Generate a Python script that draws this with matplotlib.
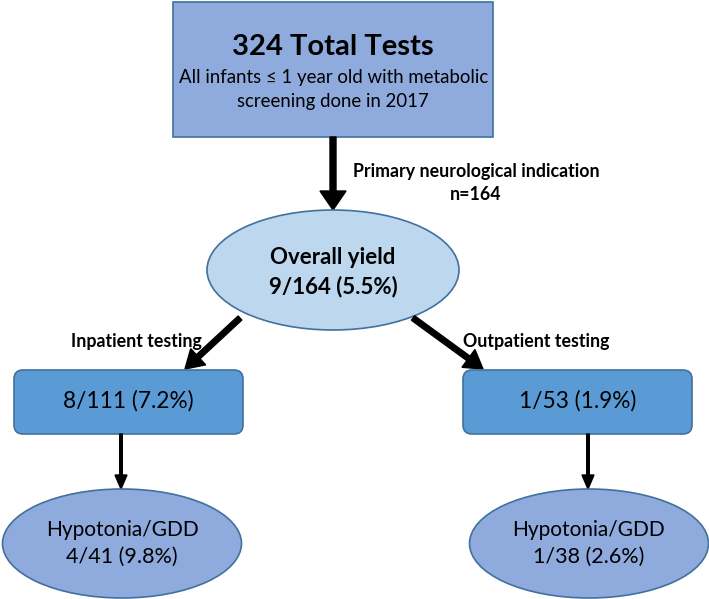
import matplotlib.pyplot as plt
from matplotlib.patches import Rectangle, Ellipse, FancyBboxPatch

plt.rcParams["font.family"] = ["Lato", "DejaVu Sans"]

TEXT = "#000000"
EDGE = "#41719c"
TOP_FILL = "#8faadc"
MID_FILL = "#bdd7ee"
BOX_FILL = "#5b9bd5"
LOW_FILL = "#8faadc"

# textos del diagrama
top_title = "324 Total Tests"
top_sub = ["All infants ≤ 1 year old with metabolic", "screening done in 2017"]
branch_main = ["Primary neurological indication", "n=164"]
overall = ["Overall yield", "9/164 (5.5%)"]
branch_labels = ["Inpatient testing", "Outpatient testing"]
setting_yield = ["8/111 (7.2%)", "1/53 (1.9%)"]
subgroup = ["Hypotonia/GDD", "Hypotonia/GDD"]
subgroup_yield = ["4/41 (9.8%)", "1/38 (2.6%)"]

fig = plt.figure(figsize=(7.09, 5.99), dpi=100)
ax = fig.add_axes([0, 0, 1, 1])
ax.set_xlim(0, 709); ax.set_ylim(599, 0); ax.axis("off")

# caja superior
ax.add_patch(Rectangle((173, 2), 320, 135, facecolor=TOP_FILL, edgecolor=EDGE, lw=1.2))
ax.text(333, 47, top_title, ha="center", va="center", fontsize=21, fontweight="bold", color=TEXT)
ax.text(333.5, 78, top_sub[0], ha="center", va="center", fontsize=13.4, color=TEXT)
ax.text(333, 101, top_sub[1], ha="center", va="center", fontsize=13.4, color=TEXT)

# flecha principal
ax.arrow(333, 137, 0, 73, width=6, head_width=26, head_length=19,
         length_includes_head=True, color="black")
ax.text(476, 172, branch_main[0], ha="center", va="center", fontsize=12.8, fontweight="bold")
ax.text(476, 194, branch_main[1], ha="center", va="center", fontsize=12.8, fontweight="bold")

# elipse central
ax.add_patch(Ellipse((333, 270), 252, 120, facecolor=MID_FILL, edgecolor=EDGE, lw=1.2))
ax.text(333, 257, overall[0], ha="center", va="center", fontsize=16, fontweight="bold")
ax.text(333, 287, overall[1], ha="center", va="center", fontsize=16, fontweight="bold")

# ramas
box_left = [14, 463]
arrow_start = [(240, 318), (413, 318)]
arrow_end = [(185, 369), (483, 369)]
label_pos = [(136, 342), (536, 342)]
for i in range(2):
    (x0, y0), (x1, y1) = arrow_start[i], arrow_end[i]
    ax.arrow(x0, y0, x1 - x0, y1 - y0, width=5.5, head_width=22, head_length=18,
             length_includes_head=True, color="black")
    ax.text(*label_pos[i], branch_labels[i], ha="center", va="center", fontsize=12.8, fontweight="bold")
    ax.add_patch(FancyBboxPatch((box_left[i], 370), 229, 64,
                                boxstyle="round,pad=0,rounding_size=9",
                                facecolor=BOX_FILL, edgecolor=EDGE, lw=1.2))
    ax.text(box_left[i] + 114.5, 401, setting_yield[i], ha="center", va="center", fontsize=16.3)
    cx = [121, 588][i]
    ax.arrow(cx, 434, 0, 55, width=2.6, head_width=12, head_length=14,
             length_includes_head=True, color="black")
    ecx = [122, 589][i]
    ax.add_patch(Ellipse((ecx, 543.5), 239, 109, facecolor=LOW_FILL, edgecolor=EDGE, lw=1.2))
    ax.text(ecx, 530, subgroup[i], ha="center", va="center", fontsize=15)
    ax.text(ecx, 557, subgroup_yield[i], ha="center", va="center", fontsize=15.5)

fig.savefig("out.png", dpi=100)
